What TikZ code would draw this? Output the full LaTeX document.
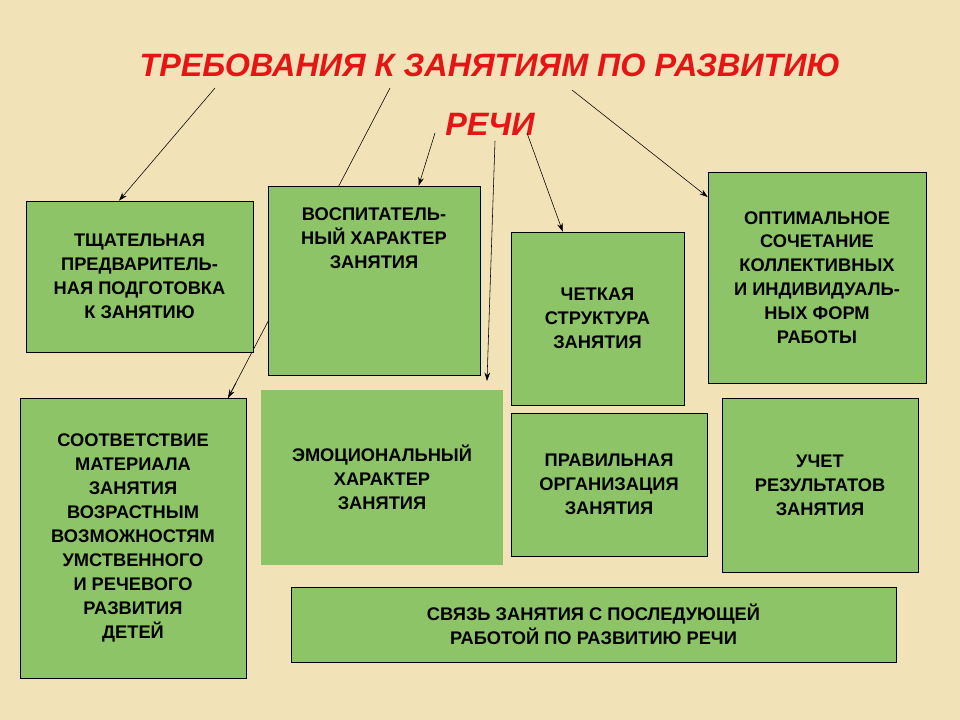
\documentclass[tikz,border=0pt]{standalone}
\usepackage{fontspec}
\setmainfont{Liberation Sans}
\usetikzlibrary{calc,arrows.meta}
\definecolor{bgbeige}{RGB}{242,226,184}
\definecolor{boxgreen}{RGB}{141,196,104}
\definecolor{titlered}{RGB}{230,20,20}
\tikzset{
	reqbox/.style={draw=black,fill=boxgreen,align=center,font=\bfseries\fontsize{13}{17}\selectfont,inner sep=0pt},
	ptr/.style={-{Stealth[length=6pt,width=4pt]},thin}
}
\begin{document}
\begin{tikzpicture}[x=0.025cm,y=-0.025cm]
	\fill[bgbeige] (0,0) rectangle (960,720);
	\useasboundingbox (0,0) rectangle (960,720);
	\node (title) at (490,95) [align=center,text=titlered,font=\bfseries\itshape\fontsize{23}{42}\selectfont] {ТРЕБОВАНИЯ К ЗАНЯТИЯМ ПО РАЗВИТИЮ\\РЕЧИ};
	% start points of the pointers
	\coordinate (s1) at (215,88);
	\coordinate (s2) at (390,88);
	\coordinate (s3) at (435,133);
	\coordinate (s4) at (495,141);
	\coordinate (s5) at (527,133);
	\coordinate (s6) at (572,90);
	\coordinate (t2) at (228,398);
	\coordinate (t4) at (487,381);
	\draw (s2) -- (t2);
	\draw[ptr] ($(t2)+(8,-15)$) -- (t2);
	\draw[ptr] (s4) -- (t4);
	% boxes
	\node[reqbox,minimum width=227*0.025cm,minimum height=151*0.025cm] (prep) at (139.5,276.5) {ТЩАТЕЛЬНАЯ\\ПРЕДВАРИТЕЛЬ-\\НАЯ ПОДГОТОВКА\\К ЗАНЯТИЮ};
	\node[reqbox,minimum width=212*0.025cm,minimum height=189*0.025cm,text depth=60pt] (educ) at (374,280.5) {ВОСПИТАТЕЛЬ-\\НЫЙ ХАРАКТЕР\\ЗАНЯТИЯ};
	\node[reqbox,minimum width=173*0.025cm,minimum height=173*0.025cm] (struct) at (597.5,318.5) {ЧЕТКАЯ\\СТРУКТУРА\\ЗАНЯТИЯ};
	\node[reqbox,minimum width=218*0.025cm,minimum height=211*0.025cm] (forms) at (817,277.5) {ОПТИМАЛЬНОЕ\\СОЧЕТАНИЕ\\КОЛЛЕКТИВНЫХ\\И ИНДИВИДУАЛЬ-\\НЫХ ФОРМ\\РАБОТЫ};
	\node[reqbox,minimum width=226*0.025cm,minimum height=280*0.025cm] (match) at (133,538) {СООТВЕТСТВИЕ\\МАТЕРИАЛА\\ЗАНЯТИЯ\\ВОЗРАСТНЫМ\\ВОЗМОЖНОСТЯМ\\УМСТВЕННОГО\\И РЕЧЕВОГО\\РАЗВИТИЯ\\ДЕТЕЙ};
	\node[reqbox,draw=none,minimum width=242*0.025cm,minimum height=175*0.025cm] (emot) at (382,477.5) {ЭМОЦИОНАЛЬНЫЙ\\ХАРАКТЕР\\ЗАНЯТИЯ};
	\node[reqbox,minimum width=196*0.025cm,minimum height=143*0.025cm] (organ) at (609,484.5) {ПРАВИЛЬНАЯ\\ОРГАНИЗАЦИЯ\\ЗАНЯТИЯ};
	\node[reqbox,minimum width=196*0.025cm,minimum height=174*0.025cm] (result) at (820,485) {УЧЕТ\\РЕЗУЛЬТАТОВ\\ЗАНЯТИЯ};
	\node[reqbox,minimum width=605*0.025cm,minimum height=75*0.025cm] (link) at (593.5,624.5) {СВЯЗЬ ЗАНЯТИЯ С ПОСЛЕДУЮЩЕЙ\\РАБОТОЙ ПО РАЗВИТИЮ РЕЧИ};
	% pointers into boxes
	\draw[ptr] (s1) -- ($(prep.north west)!0.41!(prep.north east)$);
	\draw[ptr] (s3) -- ($(educ.north west)!0.71!(educ.north east)$);
	\draw[ptr] (s5) -- ($(struct.north west)!0.30!(struct.north east)$);
	\draw[ptr] (s6) -- ($(forms.north west)!0.12!(forms.south west)$);
\end{tikzpicture}
\end{document}
